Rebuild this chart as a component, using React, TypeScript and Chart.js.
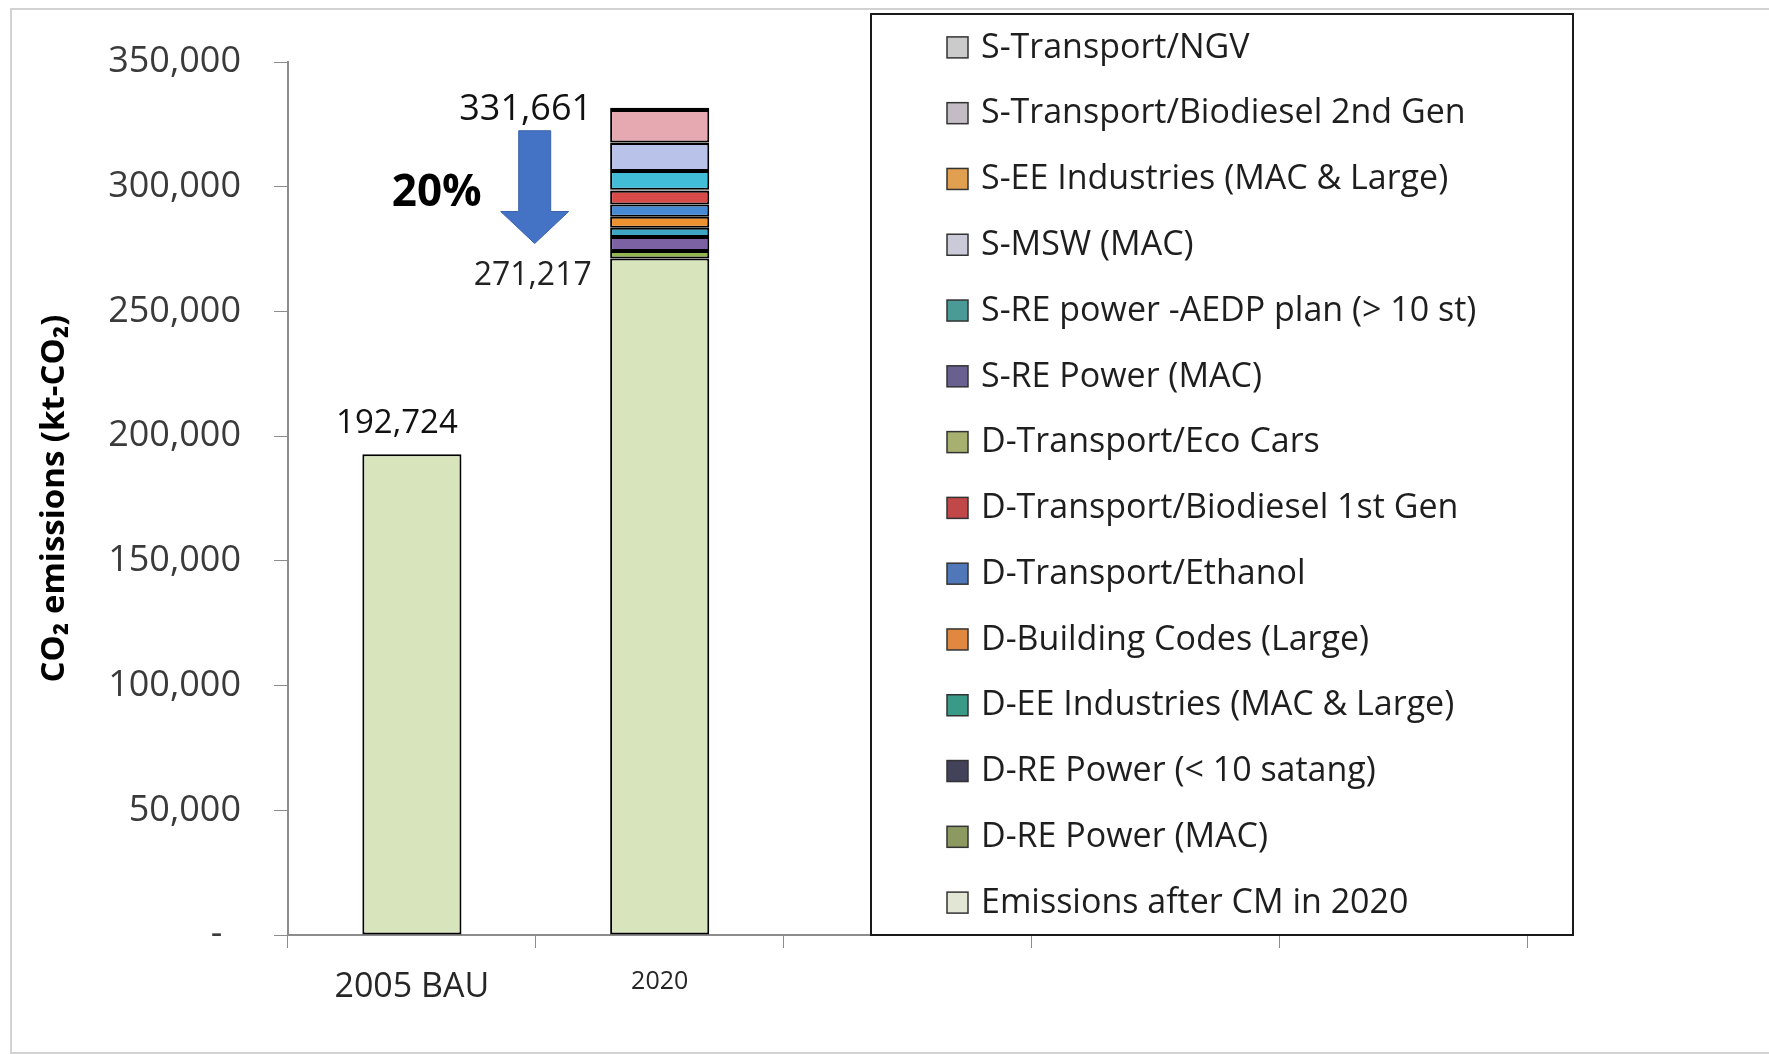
import React, { useEffect, useRef } from "react";
import { Chart, registerables } from "chart.js";

Chart.register(...registerables);

// ---------- data ----------
const categories = ["2005 BAU", "2020", "", "", ""];

const emissionsAfterCM = [192724, 271217, null, null, null];
const dRePowerMac = [null, 3000, null, null, null];
const dRePowerBelow10 = [null, 5600, null, null, null];
const dEeIndustries = [null, 3700, null, null, null];
const dBuildingCodes = [null, 4400, null, null, null];
const dEthanol = [null, 5000, null, null, null];
const dBiodiesel1st = [null, 5500, null, null, null];
const dEcoCars = [null, 200, null, null, null];
const sRePowerMac = [null, 200, null, null, null];
const sRePowerAedp = [null, 7500, null, null, null];
const sMsw = [null, 11200, null, null, null];
const sEeIndustries = [null, 200, null, null, null];
const sBiodiesel2nd = [null, 13000, null, null, null];
const sNgv = [null, 944, null, null, null];

const seriesNames = [
  "Emissions after CM in 2020",
  "D-RE Power (MAC)",
  "D-RE Power (< 10 satang)",
  "D-EE Industries (MAC & Large)",
  "D-Building Codes (Large)",
  "D-Transport/Ethanol",
  "D-Transport/Biodiesel 1st Gen",
  "D-Transport/Eco Cars",
  "S-RE Power (MAC)",
  "S-RE power -AEDP plan (> 10 st)",
  "S-MSW (MAC)",
  "S-EE Industries (MAC & Large)",
  "S-Transport/Biodiesel 2nd Gen",
  "S-Transport/NGV",
];
const seriesValues = [
  emissionsAfterCM, dRePowerMac, dRePowerBelow10, dEeIndustries, dBuildingCodes,
  dEthanol, dBiodiesel1st, dEcoCars, sRePowerMac, sRePowerAedp, sMsw,
  sEeIndustries, sBiodiesel2nd, sNgv,
];

const yTicks = [0, 50000, 100000, 150000, 200000, 250000, 300000, 350000];
const reductionLabel = "20%";
const yTitle = "CO\u2082 emissions (kt-CO\u2082)";

// ---------- styles ----------
const barColors = [
  "#d8e4bc", "#93b552", "#7c61a3", "#3fa6c4", "#ee922f", "#4689d4", "#d94b48",
  "#a4b26a", "#7060a0", "#41bdd8", "#b9c3ea", "#e8a040", "#e6a9b1", "#8a8a8a",
];
const legendColors = [
  "#e2e6d4", "#8c9a62", "#42425a", "#3a9a88", "#e08840", "#5078b8", "#c04848",
  "#a8b070", "#6a6090", "#4a9a98", "#cacad8", "#e0a050", "#c4bcc4", "#cbcbcb",
];
const FONT = "'Open Sans', 'DejaVu Sans', sans-serif";

const fmt = (v: number) => v.toLocaleString("en-US");

const annotPlugin = {
  id: "annot",
  afterDatasetsDraw(chart: any) {
    const { ctx, scales } = chart;
    const x = scales.x;
    const y = scales.y;
    const ds = chart.data.datasets;
    const total = (i: number) => ds.reduce((s: number, d: any) => s + (d.data[i] || 0), 0);
    ctx.save();
    ctx.fillStyle = "#111";
    ctx.textAlign = "center";
    ctx.textBaseline = "middle";

    // 2005 label
    const x0 = x.getPixelForValue(0);
    const t0 = total(0);
    ctx.font = `33px ${FONT}`;
    ctx.fillText(fmt(t0), x0 - 15, y.getPixelForValue(t0) - 31);

    // 2020 labels + arrow
    const x1 = x.getPixelForValue(1);
    const t1 = total(1);
    const base1 = ds[0].data[1];
    const topPix = y.getPixelForValue(t1);
    const basePix = y.getPixelForValue(base1);
    ctx.font = `36px ${FONT}`;
    ctx.fillText(fmt(t1), x1 - 134, topPix + 2);
    ctx.font = `32px ${FONT}`;
    ctx.fillStyle = "#222";
    ctx.fillText(fmt(base1), x1 - 127, basePix + 17);

    const cx = x1 - 125;
    const aTop = topPix + 23;
    const tip = basePix - 15;
    const headY = tip - 32;
    ctx.beginPath();
    ctx.moveTo(cx - 16, aTop);
    ctx.lineTo(cx + 16, aTop);
    ctx.lineTo(cx + 16, headY);
    ctx.lineTo(cx + 34, headY);
    ctx.lineTo(cx, tip);
    ctx.lineTo(cx - 34, headY);
    ctx.lineTo(cx - 16, headY);
    ctx.closePath();
    ctx.fillStyle = "#4472c4";
    ctx.fill();
    ctx.strokeStyle = "#3b63ad";
    ctx.lineWidth = 1;
    ctx.stroke();

    ctx.fillStyle = "#000";
    ctx.font = `bold 44px ${FONT}`;
    ctx.fillText(reductionLabel, x1 - 223, (topPix + basePix) / 2 + 10);
    ctx.restore();
  },
  afterDraw(chart: any) {
    const { ctx, chartArea } = chart;
    const left = 871;
    const right = 1573;
    const top = 14;
    const bottom = chartArea.bottom;
    ctx.save();
    ctx.fillStyle = "#fff";
    ctx.fillRect(left, top, right - left, bottom - top);
    ctx.strokeStyle = "#1a1a1a";
    ctx.lineWidth = 2;
    ctx.strokeRect(left, top, right - left, bottom - top);
    const ds = chart.data.datasets;
    const n = ds.length;
    const step = (bottom - top) / n;
    ctx.font = `34px ${FONT}`;
    ctx.textAlign = "left";
    ctx.textBaseline = "middle";
    for (let k = 0; k < n; k++) {
      const d = ds[n - 1 - k];
      const cy = top + step / 2 + k * step;
      ctx.fillStyle = d.legendColor;
      ctx.fillRect(947, cy - 10, 21, 21);
      ctx.strokeStyle = "#333";
      ctx.lineWidth = 1.5;
      ctx.strokeRect(947, cy - 10, 21, 21);
      ctx.fillStyle = "#1e1e1e";
      ctx.fillText(d.label, 981, cy + 1);
    }
    ctx.restore();
  },
};

export default function App() {
  const ref = useRef<HTMLCanvasElement | null>(null);
  useEffect(() => {
    if (!ref.current) return;
    const datasets = seriesNames.map((name, i) => ({
      label: name,
      data: seriesValues[i],
      backgroundColor: barColors[i],
      legendColor: legendColors[i],
      borderColor: "#000",
      borderWidth: 2,
      borderSkipped: false,
      barPercentage: 0.4,
      categoryPercentage: 1,
    }));
    const chart = new Chart(ref.current, {
      type: "bar",
      data: { labels: categories, datasets: datasets as any },
      options: {
        responsive: false,
        animation: false,
        layout: { padding: { top: 62, right: 242, left: 0, bottom: 0 } },
        plugins: { legend: { display: false }, tooltip: { enabled: false } },
        scales: {
          x: {
            stacked: true,
            afterFit: (s: any) => { s.height = 119; },
            grid: { drawOnChartArea: false, drawTicks: true, tickLength: 13, color: "#8c8c8c", offset: true },
            border: { color: "#8c8c8c", width: 2 },
            ticks: {
              padding: 19,
              color: "#262626",
              font: (c: any) => ({ family: FONT, size: c.index === 1 ? 25 : 34 }),
            },
          },
          y: {
            stacked: true,
            min: yTicks[0],
            max: yTicks[yTicks.length - 1],
            afterFit: (s: any) => { s.width = 288; },
            afterBuildTicks: (s: any) => { s.ticks = yTicks.map((v) => ({ value: v })); },
            grid: { drawOnChartArea: false, drawTicks: true, tickLength: 14, color: "#8c8c8c" },
            border: { color: "#8c8c8c", width: 2 },
            ticks: {
              padding: 33,
              color: "#3a3a3a",
              font: { family: FONT, size: 36 },
              callback: (v: any) => (Number(v) === 0 ? "-  " : fmt(Number(v))),
            },
            title: {
              display: true,
              text: yTitle,
              color: "#000",
              font: { family: FONT, size: 33, weight: "bold" },
              padding: { top: 35, bottom: 0 },
            },
          },
        },
      },
      plugins: [annotPlugin],
    });
    return () => chart.destroy();
  }, []);
  return (
    <div style={{ position: "fixed", left: 0, top: 0, width: 1769, height: 1054, background: "#fff", overflow: "hidden" }}>
      <canvas ref={ref} width={1769} height={1054} style={{ position: "absolute", left: 0, top: 0 }} />
      <div style={{ position: "absolute", left: 10, top: 8, width: 1800, height: 1042, border: "2px solid #d2d2d2", pointerEvents: "none" }} />
    </div>
  );
}
